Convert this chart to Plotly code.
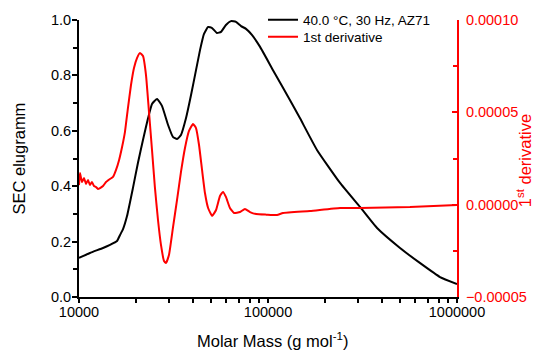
import plotly.graph_objects as go

# SEC elugramm (left axis)
mass_sec = [10000, 11430, 13400, 14590, 15890, 16490, 17100, 17950, 19300, 20500,
            21800, 23200, 24340, 25900, 27480, 29600, 31400, 33000, 34640, 36840,
            39150, 41600, 43700, 45800, 48200, 50600, 53700, 56400, 59900, 63700,
            67700, 72000, 76500, 82200, 90800, 106300, 130600, 147500, 181600, 240500,
            306900, 377600, 499500, 636000, 813000, 1000000]
sec_values = [0.141, 0.159, 0.177, 0.188, 0.202, 0.224, 0.245, 0.292, 0.394, 0.484,
              0.567, 0.646, 0.697, 0.715, 0.690, 0.621, 0.578, 0.570, 0.585, 0.646,
              0.729, 0.819, 0.892, 0.949, 0.975, 0.971, 0.953, 0.957, 0.982, 0.996,
              0.993, 0.978, 0.968, 0.946, 0.903, 0.819, 0.711, 0.646, 0.531, 0.412,
              0.325, 0.249, 0.177, 0.123, 0.072, 0.047]

# 1st derivative (right axis)
mass_der = [10000, 10120, 10370, 10630, 10890, 11160, 11430, 11710, 12000, 12300,
            12600, 12920, 13400, 13900, 14590, 15130, 15700, 16300, 16900, 17500,
            18150, 18840, 19540, 20270, 21030, 21810, 22620, 23460, 24340, 25200,
            26180, 27150, 28170, 28850, 29920, 31400, 33000, 34640, 36370, 38190,
            40100, 41600, 43160, 44780, 46400, 48200, 50600, 53100, 55700, 57800,
            59900, 62900, 66100, 71100, 75500, 80300, 86500, 98000, 111700, 120000,
            166700, 240500, 306900, 563700, 1000000]
der_values = [1.06e-5, 1.71e-5, 1.23e-5, 1.44e-5, 1.12e-5, 1.34e-5, 1.06e-5, 1.23e-5, 1.01e-5, 0.96e-5,
              0.85e-5, 0.90e-5, 1.01e-5, 1.23e-5, 1.39e-5, 1.50e-5, 1.88e-5, 2.42e-5, 3.12e-5, 3.93e-5,
              5.23e-5, 6.48e-5, 7.40e-5, 7.94e-5, 8.21e-5, 8.05e-5, 7.02e-5, 5.02e-5, 2.96e-5, 0.96e-5,
              -0.83e-5, -2.18e-5, -3.05e-5, -3.16e-5, -2.73e-5, -1.26e-5, 0.25e-5, 1.77e-5, 3.07e-5, 3.99e-5,
              4.37e-5, 4.15e-5, 3.23e-5, 1.88e-5, 0.63e-5, -0.18e-5, -0.61e-5, -0.29e-5, 0.47e-5, 0.69e-5,
              0.42e-5, -0.18e-5, -0.45e-5, -0.40e-5, -0.23e-5, -0.40e-5, -0.51e-5, -0.54e-5, -0.56e-5, -0.45e-5,
              -0.34e-5, -0.18e-5, -0.18e-5, -0.13e-5, -0.02e-5]

x_tickvals = [1e4, 1e5, 1e6]
x_ticktext = ["10000", "100000", "1000000"]
x_minor = [2e4, 3e4, 4e4, 5e4, 6e4, 7e4, 8e4, 9e4, 2e5, 3e5, 4e5, 5e5, 6e5, 7e5, 8e5, 9e5]

FONT = "Liberation Sans, Arial, sans-serif"
W, H = 534, 356

fig = go.Figure()
fig.add_trace(go.Scatter(x=mass_sec, y=sec_values, mode="lines", name="40.0 °C, 30 Hz, AZ71",
                         legend="legend",
                         line=dict(color="black", width=2, shape="spline", smoothing=0.4)))
fig.add_trace(go.Scatter(x=mass_der, y=der_values, mode="lines", name="1st derivative", yaxis="y2",
                         legend="legend2",
                         line=dict(color="red", width=2, shape="spline", smoothing=0.4)))

leg_common = dict(xref="container", yref="container", xanchor="left", yanchor="middle",
                  bgcolor="rgba(0,0,0,0)", font=dict(size=13.5), itemwidth=30)

fig.update_layout(
    width=W, height=H,
    margin=dict(l=79, r=77, t=20, b=59, autoexpand=False),
    paper_bgcolor="white", plot_bgcolor="white",
    font=dict(family=FONT, size=14.5, color="black"),
    showlegend=True,
    legend=dict(x=263 / W, y=1 - 20 / H, **leg_common),
    legend2=dict(x=263 / W, y=1 - 37 / H, **leg_common),
    xaxis=dict(type="log", range=[4, 6], tickvals=x_tickvals, ticktext=x_ticktext, automargin=False,
               showline=True, linecolor="black", linewidth=2, ticks="outside", ticklen=4,
               tickwidth=1.5, tickcolor="black", showgrid=False, zeroline=False, ticklabelstandoff=-3,
               minor=dict(tickvals=x_minor, ticks="outside", ticklen=4, tickwidth=1.5, tickcolor="black", showgrid=False)),
    yaxis=dict(range=[0, 1], dtick=0.2, tickformat=".1f", showline=True, linecolor="black", linewidth=2,
               automargin=False, ticklabelstandoff=-2,
               ticks="outside", ticklen=5, tickwidth=1.5, tickcolor="black", showgrid=False, zeroline=False,
               minor=dict(dtick=0.1, ticks="outside", ticklen=4, tickwidth=1.5, tickcolor="black", showgrid=False)),
    yaxis2=dict(range=[-5e-5, 1e-4], dtick=5e-5, tickformat=".5f", overlaying="y", side="right",
                automargin=False, ticklabelstandoff=4,
                showline=True, linecolor="red", linewidth=2, ticks="inside", ticklen=5, tickwidth=1.5,
                tickcolor="red", tickfont=dict(color="red"), showgrid=False, zeroline=False,
                minor=dict(dtick=2.5e-5, ticks="inside", ticklen=4, tickwidth=1.5, tickcolor="red", showgrid=False)),
    annotations=[
        dict(text="SEC elugramm", xref="paper", yref="paper", x=-61 / 378, y=0.5,
             xanchor="center", yanchor="middle", textangle=-90, showarrow=False,
             font=dict(size=16.5, color="black")),
        dict(text="Molar Mass (g mol<sup>-1</sup>)", xref="paper", yref="paper", x=(272 - 79) / 378,
             y=-(340 - 297) / 277, xanchor="center", yanchor="middle", showarrow=False,
             font=dict(size=16.5, color="black")),
        dict(text="1<sup>st</sup> derivative", xref="paper", yref="paper", x=(524 - 79) / 378, y=0.49,
             xanchor="center", yanchor="middle", textangle=-90, showarrow=False,
             font=dict(size=16.5, color="red")),
    ],
)

fig.write_html("out.html", config={"displayModeBar": False},
               post_script="document.body.style.margin='0';")
